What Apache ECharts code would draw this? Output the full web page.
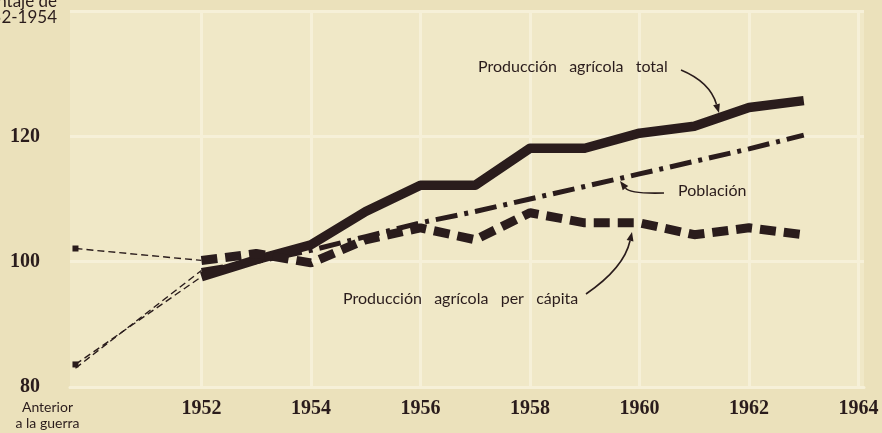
<!DOCTYPE html>
<html>
<head>
<meta charset="utf-8">
<script src="https://cdn.jsdelivr.net/npm/echarts@6/dist/echarts.min.js"></script>
<style>
html, body { margin: 0; padding: 0; background: #ebe1bb; }
#chart { width: 882px; height: 433px; }
</style>
</head>
<body>
<div id="chart"></div>
<script>
// datos (1952-1954 = 100)
var years = [1952, 1953, 1954, 1955, 1956, 1957, 1958, 1959, 1960, 1961, 1962, 1963];
var total = [97.6, 100.3, 102.7, 108.0, 112.2, 112.2, 118.1, 118.1, 120.5, 121.6, 124.6, 125.7];
var poblacion = [98.6, 100.0, 101.8, 104.0, 106.2, 108.0, 110.0, 112.0, 114.0, 116.0, 118.0, 120.2];
var perCapita = [100.2, 101.3, 99.8, 103.5, 105.4, 103.5, 107.8, 106.2, 106.2, 104.3, 105.4, 104.3];

// punto "anterior a la guerra"
var preWarX = 1949.7;
var preWarTotal = 83.6;
var preWarPoblacion = 83.0;
var preWarPerCapita = 102.1;

var xTicks = [1952, 1954, 1956, 1958, 1960, 1962, 1964];
var preWarLabel = ['Anterior', 'a la guerra'];
var yTicks = [80, 100, 120];

var ink = '#2a1c1c';
var gridCol = '#f6f0d8';

function pairs(xs, ys) {
  return xs.map(function (x, i) { return [x, ys[i]]; });
}

function connector(name, v0, v1, marker) {
  return {
    name: name,
    type: 'line',
    data: [[preWarX, v0], [years[0], v1]],
    symbol: 'rect',
    symbolSize: function (val) { return marker && val[0] === preWarX ? 6 : 0; },
    itemStyle: { color: ink },
    lineStyle: { color: ink, width: 1.4, type: [7, 4] },
    z: 3
  };
}

function arrow(p0, c, p1) {
  var dx = p1[0] - c[0], dy = p1[1] - c[1];
  var len = Math.sqrt(dx * dx + dy * dy);
  var ux = dx / len, uy = dy / len;
  var L = 9, W = 3.5;
  var bx = p1[0] - ux * L, by = p1[1] - uy * L;
  return [{
    type: 'bezierCurve', z: 100,
    shape: { x1: p0[0], y1: p0[1], cpx1: c[0], cpy1: c[1], x2: bx, y2: by },
    style: { stroke: ink, lineWidth: 1.6, fill: null }
  }, {
    type: 'polygon', z: 100,
    shape: { points: [p1, [bx - uy * W, by + ux * W], [bx + uy * W, by - ux * W]] },
    style: { fill: ink }
  }];
}

function label(text, x, y, align, size) {
  return {
    type: 'text', z: 100,
    style: {
      text: text, x: x, y: y, align: align || 'left', verticalAlign: 'middle',
      font: (size || 16) + 'px Lato', fill: ink
    }
  };
}

var chart = echarts.init(document.getElementById('chart'));
chart.setOption({
  animation: false,
  backgroundColor: '#ebe1bb',
  grid: {
    left: 70, right: 18, top: 11, bottom: 46,
    show: true, backgroundColor: '#f0e8c7', borderWidth: 0
  },
  xAxis: {
    type: 'value',
    min: 1949.6,
    max: 1964.1,
    axisLine: { show: true, lineStyle: { color: gridCol, width: 3 } },
    axisTick: { show: false, customValues: xTicks },
    splitLine: { show: true, lineStyle: { color: gridCol, width: 3 } },
    axisLabel: {
      customValues: [preWarX].concat(xTicks),
      margin: 12,
      formatter: function (v) {
        if (v === preWarX) {
          return preWarLabel.map(function (s) { return '{pre|' + s + '}'; }).join('\n');
        }
        return '{yr|' + v + '}';
      },
      rich: {
        yr: { fontFamily: 'Liberation Serif', fontSize: 20, fontWeight: 'bold', color: ink },
        pre: { fontFamily: 'Lato', fontSize: 14, color: ink, lineHeight: 16, padding: [0, 56, 0, 0] }
      }
    }
  },
  yAxis: {
    type: 'value',
    min: 80,
    max: 140,
    interval: 20,
    axisLine: { show: false },
    axisTick: { show: false },
    splitLine: { show: true, lineStyle: { color: gridCol, width: 3 } },
    axisLabel: {
      margin: 30,
      fontFamily: 'Liberation Serif',
      fontSize: 20,
      fontWeight: 'bold',
      color: ink,
      formatter: function (v) { return yTicks.indexOf(v) >= 0 ? String(v) : ''; }
    }
  },
  series: [
    connector('pre-total', preWarTotal, total[0], true),
    connector('pre-poblacion', preWarPoblacion, poblacion[0], false),
    connector('pre-percapita', preWarPerCapita, perCapita[0], true),
    {
      name: 'Población',
      type: 'line',
      data: pairs(years, poblacion),
      symbol: 'none',
      lineStyle: { color: ink, width: 5, type: [22, 7, 4, 7], cap: 'butt' },
      z: 4
    },
    {
      name: 'Producción agrícola total',
      type: 'line',
      data: pairs(years, total),
      symbol: 'none',
      lineStyle: { color: ink, width: 9.5, join: 'round' },
      z: 5
    },
    {
      name: 'Producción agrícola per cápita',
      type: 'line',
      data: pairs(years, perCapita),
      symbol: 'none',
      lineStyle: { color: ink, width: 9, type: [16, 8], cap: 'butt' },
      z: 6
    }
  ],
  graphic: [
    label('Porcentaje de', 57, 2, 'right', 17),
    label('1952-1954', 57, 18, 'right', 17),
    label('Producción   agrícola   total', 478, 67),
    label('Población', 678, 191),
    label('Producción   agrícola   per   cápita', 343, 299)
  ].concat(
    arrow([681, 70], [710, 82], [719, 113]),
    arrow([664, 193], [630, 194], [620, 181]),
    arrow([586, 294], [624, 268], [632, 232])
  )
});
</script>
</body>
</html>
